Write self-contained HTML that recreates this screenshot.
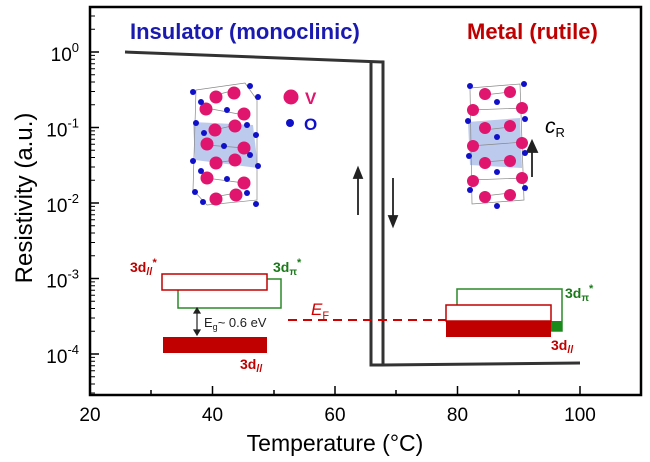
<!DOCTYPE html>
<html><head><style>body{margin:0;background:#fff}svg{display:block}text{font-family:"Liberation Sans",Arial,sans-serif}</style></head><body>
<svg width="650" height="462" viewBox="0 0 650 462" xmlns="http://www.w3.org/2000/svg">
<rect width="650" height="462" fill="#fff"/>
<rect x="90" y="7" width="551" height="388" fill="none" stroke="#000" stroke-width="2.5"/>
<g stroke="#000" stroke-width="1.5">
<line x1="212.5" y1="395" x2="212.5" y2="386"/><line x1="335" y1="395" x2="335" y2="386"/><line x1="457.5" y1="395" x2="457.5" y2="386"/><line x1="580" y1="395" x2="580" y2="386"/>
<line x1="151" y1="395" x2="151" y2="390"/><line x1="274" y1="395" x2="274" y2="390"/><line x1="396" y1="395" x2="396" y2="390"/><line x1="519" y1="395" x2="519" y2="390"/>
</g>
<g font-size="19" text-anchor="middle" fill="#000">
<text x="90" y="421">20</text><text x="212.5" y="421">40</text><text x="335" y="421">60</text><text x="457.5" y="421">80</text><text x="580" y="421">100</text>
</g>
<text x="335" y="451" font-size="23" text-anchor="middle">Temperature (°C)</text>
<g stroke="#000" stroke-width="1.5">
<line x1="90" y1="52" x2="99" y2="52"/><line x1="90" y1="127.5" x2="99" y2="127.5"/><line x1="90" y1="203" x2="99" y2="203"/><line x1="90" y1="278.5" x2="99" y2="278.5"/><line x1="90" y1="354" x2="99" y2="354"/>
</g>
<g stroke="#000" stroke-width="1">
<path d="M90 29.3h5M90 16h5M90 104.8h5M90 91.5h5M90 82h5M90 74.7h5M90 68.8h5M90 63.7h5M90 59.3h5M90 55.4h5M90 180.3h5M90 167h5M90 157.5h5M90 150.2h5M90 144.3h5M90 139.2h5M90 134.8h5M90 130.9h5M90 255.8h5M90 242.5h5M90 233h5M90 225.7h5M90 219.8h5M90 214.7h5M90 210.3h5M90 206.4h5M90 331.3h5M90 318h5M90 308.5h5M90 301.2h5M90 295.3h5M90 290.2h5M90 285.8h5M90 281.9h5M90 384h5M90 376.7h5M90 370.8h5M90 365.7h5M90 361.3h5M90 357.4h5M90 393h5"/>
</g>
<g font-size="19" text-anchor="end">
<text x="79" y="61">10<tspan font-size="13" dy="-9">0</tspan></text>
<text x="79" y="136.5">10<tspan font-size="13" dy="-9">-1</tspan></text>
<text x="79" y="212">10<tspan font-size="13" dy="-9">-2</tspan></text>
<text x="79" y="287.5">10<tspan font-size="13" dy="-9">-3</tspan></text>
<text x="79" y="363">10<tspan font-size="13" dy="-9">-4</tspan></text>
</g>
<text transform="translate(32,198) rotate(-90)" font-size="24" text-anchor="middle">Resistivity (a.u.)</text>
<g fill="none" stroke="#333" stroke-width="3">
<path d="M125 52 L383 62 L383 365 L580 363"/>
<path d="M371 61 L371 365 L383 365"/>
</g>
<g stroke="#222" stroke-width="1.8" fill="#222">
<line x1="358" y1="215" x2="358" y2="176"/><path d="M354 178 L358 168 L362 178Z"/>
<line x1="393" y1="178" x2="393" y2="218"/><path d="M389 216 L393 226 L397 216Z"/>
<line x1="532" y1="177" x2="532" y2="150"/><path d="M527 152 L532 141 L537 152Z"/>
</g>
<text x="130" y="39" font-size="22" font-weight="bold" fill="#1a1ab0">Insulator (monoclinic)</text>
<text x="467" y="39" font-size="22" font-weight="bold" fill="#c00000">Metal (rutile)</text>
<g>
<polygon points="193,122 253,125 258,168 195,160" fill="#9fb3e6" opacity="0.7"/>
<g stroke="#888" stroke-width="0.7" fill="none"><path d="M196 90 L245 83 L257 100 L257 200 L207 205 L193 190Z M216 95 L235 90 M206 108 L244 115 M214 130 L236 125 M206 145 L245 148 M214 163 L236 160 M206 178 L244 183 M214 197 L236 193"/></g>
<g fill="#e0156e"><circle cx="216" cy="97" r="6.5"/><circle cx="234" cy="93" r="6.5"/><circle cx="206" cy="109" r="6.5"/><circle cx="244" cy="114" r="6.5"/><circle cx="215" cy="130" r="6.5"/><circle cx="235" cy="126" r="6.5"/><circle cx="207" cy="144" r="6.5"/><circle cx="244" cy="148" r="6.5"/><circle cx="216" cy="163" r="6.5"/><circle cx="235" cy="160" r="6.5"/><circle cx="207" cy="178" r="6.5"/><circle cx="244" cy="183" r="6.5"/><circle cx="216" cy="199" r="6.5"/><circle cx="236" cy="195" r="6.5"/></g>
<g fill="#1010c8"><circle cx="193" cy="92" r="3"/><circle cx="250" cy="86" r="3"/><circle cx="201" cy="102" r="3"/><circle cx="258" cy="97" r="3"/><circle cx="227" cy="110" r="3"/><circle cx="196" cy="123" r="3"/><circle cx="247" cy="125" r="3"/><circle cx="204" cy="133" r="3"/><circle cx="256" cy="135" r="3"/><circle cx="224" cy="146" r="3"/><circle cx="250" cy="155" r="3"/><circle cx="193" cy="161" r="3"/><circle cx="201" cy="171" r="3"/><circle cx="258" cy="166" r="3"/><circle cx="227" cy="179" r="3"/><circle cx="195" cy="192" r="3"/><circle cx="247" cy="193" r="3"/><circle cx="203" cy="202" r="3"/><circle cx="256" cy="204" r="3"/></g>
</g>
<circle cx="291" cy="97" r="7.5" fill="#e0156e"/><text x="305" y="104" font-size="17" font-weight="bold" fill="#e0156e">V</text>
<circle cx="290" cy="123" r="4" fill="#1010c8"/><text x="304" y="130" font-size="17" font-weight="bold" fill="#1010c8">O</text>
<g>
<polygon points="468,122 520,118 522,168 470,165" fill="#9fb3e6" opacity="0.7"/>
<g stroke="#888" stroke-width="0.7" fill="none"><path d="M470 88 L520 84 L524 200 L472 204Z M484 95 L510 92 M470 110 L524 108 M484 130 L510 127 M470 146 L524 142 M484 162 L510 160 M470 180 L524 178 M484 196 L510 193"/></g>
<g fill="#e0156e"><circle cx="485" cy="94" r="6"/><circle cx="510" cy="92" r="6"/><circle cx="473" cy="110" r="6"/><circle cx="522" cy="108" r="6"/><circle cx="485" cy="128" r="6"/><circle cx="510" cy="126" r="6"/><circle cx="473" cy="146" r="6"/><circle cx="522" cy="143" r="6"/><circle cx="485" cy="163" r="6"/><circle cx="510" cy="161" r="6"/><circle cx="473" cy="181" r="6"/><circle cx="522" cy="178" r="6"/><circle cx="485" cy="197" r="6"/><circle cx="510" cy="195" r="6"/></g>
<g fill="#1010c8"><circle cx="470" cy="86" r="3"/><circle cx="524" cy="84" r="3"/><circle cx="497" cy="102" r="3"/><circle cx="468" cy="121" r="3"/><circle cx="525" cy="119" r="3"/><circle cx="497" cy="137" r="3"/><circle cx="469" cy="156" r="3"/><circle cx="525" cy="153" r="3"/><circle cx="497" cy="172" r="3"/><circle cx="470" cy="190" r="3"/><circle cx="525" cy="188" r="3"/><circle cx="497" cy="206" r="3"/></g>
</g>
<text x="545" y="133" font-size="21" font-style="italic" fill="#000">c<tspan font-size="13" font-style="normal" dy="4">R</tspan></text>
<rect x="178" y="279" width="103" height="29" fill="#fff" stroke="#2a8a2a" stroke-width="1.5"/>
<rect x="162" y="274" width="105" height="16" fill="#fff" stroke="#c00000" stroke-width="1.5"/>
<rect x="163" y="337" width="104" height="16" fill="#c00000"/>
<text x="130" y="272" font-size="14" font-weight="bold" fill="#c00000">3d<tspan font-size="11" dy="3">//</tspan><tspan font-size="11" dy="-9">*</tspan></text>
<text x="273" y="272" font-size="14" font-weight="bold" fill="#1a7a1a">3d<tspan font-size="10" dy="3">π</tspan><tspan font-size="11" dy="-9">*</tspan></text>
<text x="240" y="369" font-size="14" font-weight="bold" fill="#c00000">3d<tspan font-size="11" dy="3">//</tspan></text>
<g stroke="#222" stroke-width="1.2" fill="#222"><line x1="197" y1="312" x2="197" y2="331"/><path d="M194 313 L197 308 L200 313Z M194 330 L197 335 L200 330Z"/></g>
<text x="204" y="327" font-size="13" fill="#222">E<tspan font-size="9" dy="3">g</tspan><tspan dy="-3">~ 0.6 eV</tspan></text>
<line x1="288" y1="320" x2="446" y2="320" stroke="#d00000" stroke-width="2" stroke-dasharray="9,6"/>
<text x="311" y="315" font-size="17" font-style="italic" fill="#d00000">E<tspan font-size="11" font-style="normal" dy="4">F</tspan></text>
<rect x="457" y="289" width="105" height="42" fill="#fff" stroke="#2a8a2a" stroke-width="1.5"/>
<rect x="551" y="321" width="11" height="10" fill="#1a8a1a"/>
<rect x="446" y="305" width="105" height="16" fill="#fff" stroke="#c00000" stroke-width="1.5"/>
<rect x="446" y="321" width="105" height="16" fill="#c00000"/>
<text x="565" y="298" font-size="14" font-weight="bold" fill="#1a7a1a">3d<tspan font-size="10" dy="3">π</tspan><tspan font-size="11" dy="-9">*</tspan></text>
<text x="551" y="350" font-size="14" font-weight="bold" fill="#c00000">3d<tspan font-size="11" dy="3">//</tspan></text>
</svg>
</body></html>
